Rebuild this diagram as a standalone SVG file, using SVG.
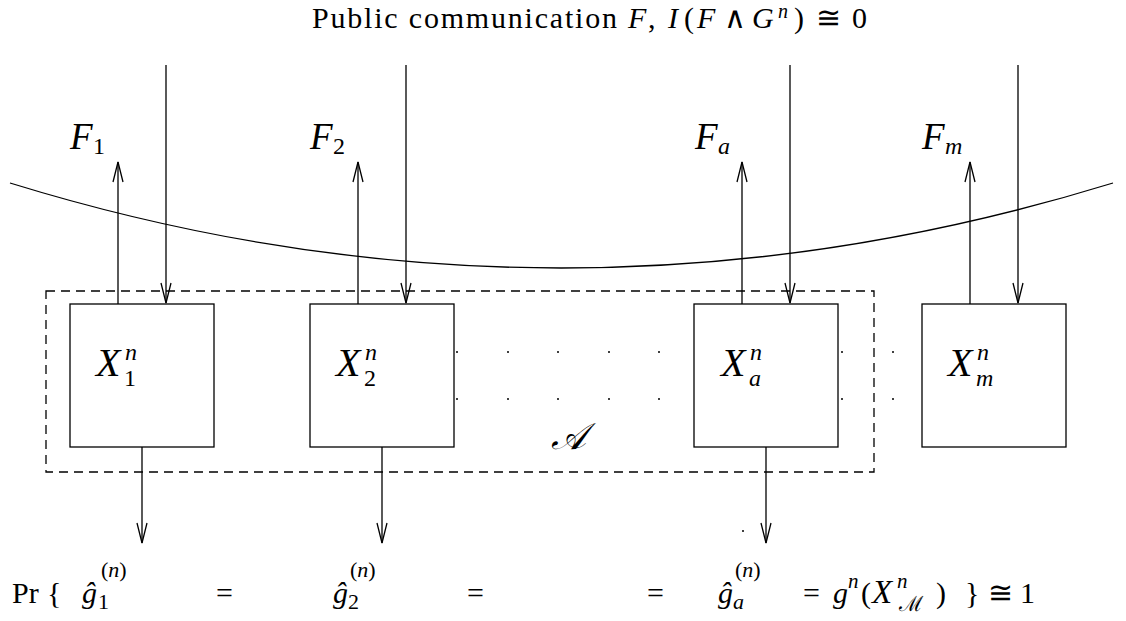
<svg xmlns="http://www.w3.org/2000/svg" width="1126" height="621" viewBox="0 0 1126 621" font-family="'Liberation Serif','DejaVu Serif',serif">
<style>
text{font-family:"Liberation Serif","DejaVu Serif",serif;fill:#000}
.i{font-style:italic}
.lbl{font-size:37px}
.xl{font-size:40px;font-style:italic}
.sub{font-size:24px}
.ln{stroke:#000;stroke-width:1.3;fill:none}
.box{stroke:#000;stroke-width:1.3;fill:#fff}
.dot{fill:#000}
</style>
<defs>
<marker id="ah" markerUnits="userSpaceOnUse" markerWidth="30" markerHeight="30" refX="0" refY="0" orient="auto" overflow="visible" viewBox="-25 -10 30 20">
<path d="M-20,-5 L0,0 L-20,5" fill="none" stroke="#000" stroke-width="1.3"/>
</marker>
</defs>
<rect width="1126" height="621" fill="#fff"/>

<g id="title" font-size="30">
<text x="312" y="28" textLength="305" lengthAdjust="spacing">Public communication</text>
<text class="i" x="628" y="28">F</text><text x="648" y="28">,</text>
<text class="i" x="668" y="28">I</text><text x="684" y="28">(</text><text class="i" x="697" y="28">F</text><text x="724" y="28">∧</text><text class="i" x="752" y="28">G</text><text class="i" x="778" y="18" font-size="20">n</text><text x="794" y="28">)</text><text x="816" y="28">≅</text><text x="852" y="28">0</text>
</g>

<path id="boundary" class="ln" d="M10,183 Q561,353 1113,183"/>

<rect id="setA" x="46" y="291" width="828" height="181" fill="none" stroke="#000" stroke-width="1.3" stroke-dasharray="9 6"/>
<text id="setA-label" class="lbl i" x="551" y="449" font-size="36">𝒜</text>

<g id="dots">
<circle class="dot" cx="457" cy="352" r="1"/><circle class="dot" cx="508" cy="352" r="1"/><circle class="dot" cx="558" cy="352" r="1"/><circle class="dot" cx="609" cy="352" r="1"/><circle class="dot" cx="659" cy="352" r="1"/><circle class="dot" cx="842" cy="352" r="1"/><circle class="dot" cx="893" cy="352" r="1"/>
<circle class="dot" cx="457" cy="399" r="1"/><circle class="dot" cx="508" cy="399" r="1"/><circle class="dot" cx="558" cy="399" r="1"/><circle class="dot" cx="609" cy="399" r="1"/><circle class="dot" cx="659" cy="399" r="1"/><circle class="dot" cx="842" cy="399" r="1"/><circle class="dot" cx="893" cy="399" r="1"/>
<circle class="dot" cx="743" cy="531" r="1"/>
</g>

<g id="node-1">
<rect class="box" x="70" y="304" width="144" height="143"/>
<text class="xl" x="96" y="376">X</text><text class="sub i" x="125" y="360">n</text><text class="sub" x="124" y="386">1</text>
</g>
<g id="node-2">
<rect class="box" x="310" y="304" width="144" height="143"/>
<text class="xl" x="336" y="376">X</text><text class="sub i" x="365" y="360">n</text><text class="sub" x="364" y="386">2</text>
</g>
<g id="node-a">
<rect class="box" x="694" y="304" width="144" height="143"/>
<text class="xl" x="721" y="376">X</text><text class="sub i" x="750" y="360">n</text><text class="sub i" x="749" y="386">a</text>
</g>
<g id="node-m">
<rect class="box" x="922" y="304" width="144" height="143"/>
<text class="xl" x="948" y="376">X</text><text class="sub i" x="977" y="360">n</text><text class="sub i" x="976" y="386">m</text>
</g>

<g id="labels-F">
<text class="lbl i" x="70" y="149">F</text><text class="sub" x="93" y="154">1</text>
<text class="lbl i" x="310" y="149">F</text><text class="sub" x="333" y="154">2</text>
<text class="lbl i" x="695" y="149">F</text><text class="sub i" x="718" y="154">a</text>
<text class="lbl i" x="922" y="149">F</text><text class="sub i" x="945" y="154">m</text>
</g>

<g id="connectors">
<line class="ln" x1="118" y1="304" x2="118" y2="162" marker-end="url(#ah)"/>
<line class="ln" x1="166" y1="65" x2="166" y2="303" marker-end="url(#ah)"/>
<line class="ln" x1="358" y1="304" x2="358" y2="162" marker-end="url(#ah)"/>
<line class="ln" x1="406" y1="65" x2="406" y2="303" marker-end="url(#ah)"/>
<line class="ln" x1="742" y1="304" x2="742" y2="162" marker-end="url(#ah)"/>
<line class="ln" x1="790" y1="65" x2="790" y2="303" marker-end="url(#ah)"/>
<line class="ln" x1="970" y1="304" x2="970" y2="162" marker-end="url(#ah)"/>
<line class="ln" x1="1018" y1="65" x2="1018" y2="303" marker-end="url(#ah)"/>
<line class="ln" x1="142" y1="447" x2="142" y2="543" marker-end="url(#ah)"/>
<line class="ln" x1="382" y1="447" x2="382" y2="543" marker-end="url(#ah)"/>
<line class="ln" x1="766" y1="447" x2="766" y2="543" marker-end="url(#ah)"/>
</g>

<g id="equation" font-size="30">
<text x="12" y="603">Pr</text><text x="47" y="603">{</text>
<text class="i" x="82" y="603">ĝ</text><text x="98" y="609" font-size="22">1</text><text x="101" y="577" font-size="22">(<tspan class="i">n</tspan>)</text>
<text x="216" y="603">=</text>
<text class="i" x="333" y="603">ĝ</text><text x="348" y="609" font-size="22">2</text><text x="350" y="577" font-size="22">(<tspan class="i">n</tspan>)</text>
<text x="467" y="603">=</text>
<text x="647" y="603">=</text>
<text class="i" x="718" y="603">ĝ</text><text class="i" x="733" y="609" font-size="22">a</text><text x="735" y="577" font-size="22">(<tspan class="i">n</tspan>)</text>
<text x="803" y="603">=</text><text class="i" x="833" y="603">g</text><text class="i" x="848" y="588" font-size="21">n</text><text x="861" y="603">(</text><text class="i" x="872" y="603" font-size="33">X</text><text class="i" x="897" y="588" font-size="21">n</text><text x="899" y="611" font-size="21">ℳ</text><text x="936" y="603">)</text>
<text x="965" y="603">}</text><text x="988" y="603">≅</text><text x="1020" y="603">1</text>
</g>
</svg>
